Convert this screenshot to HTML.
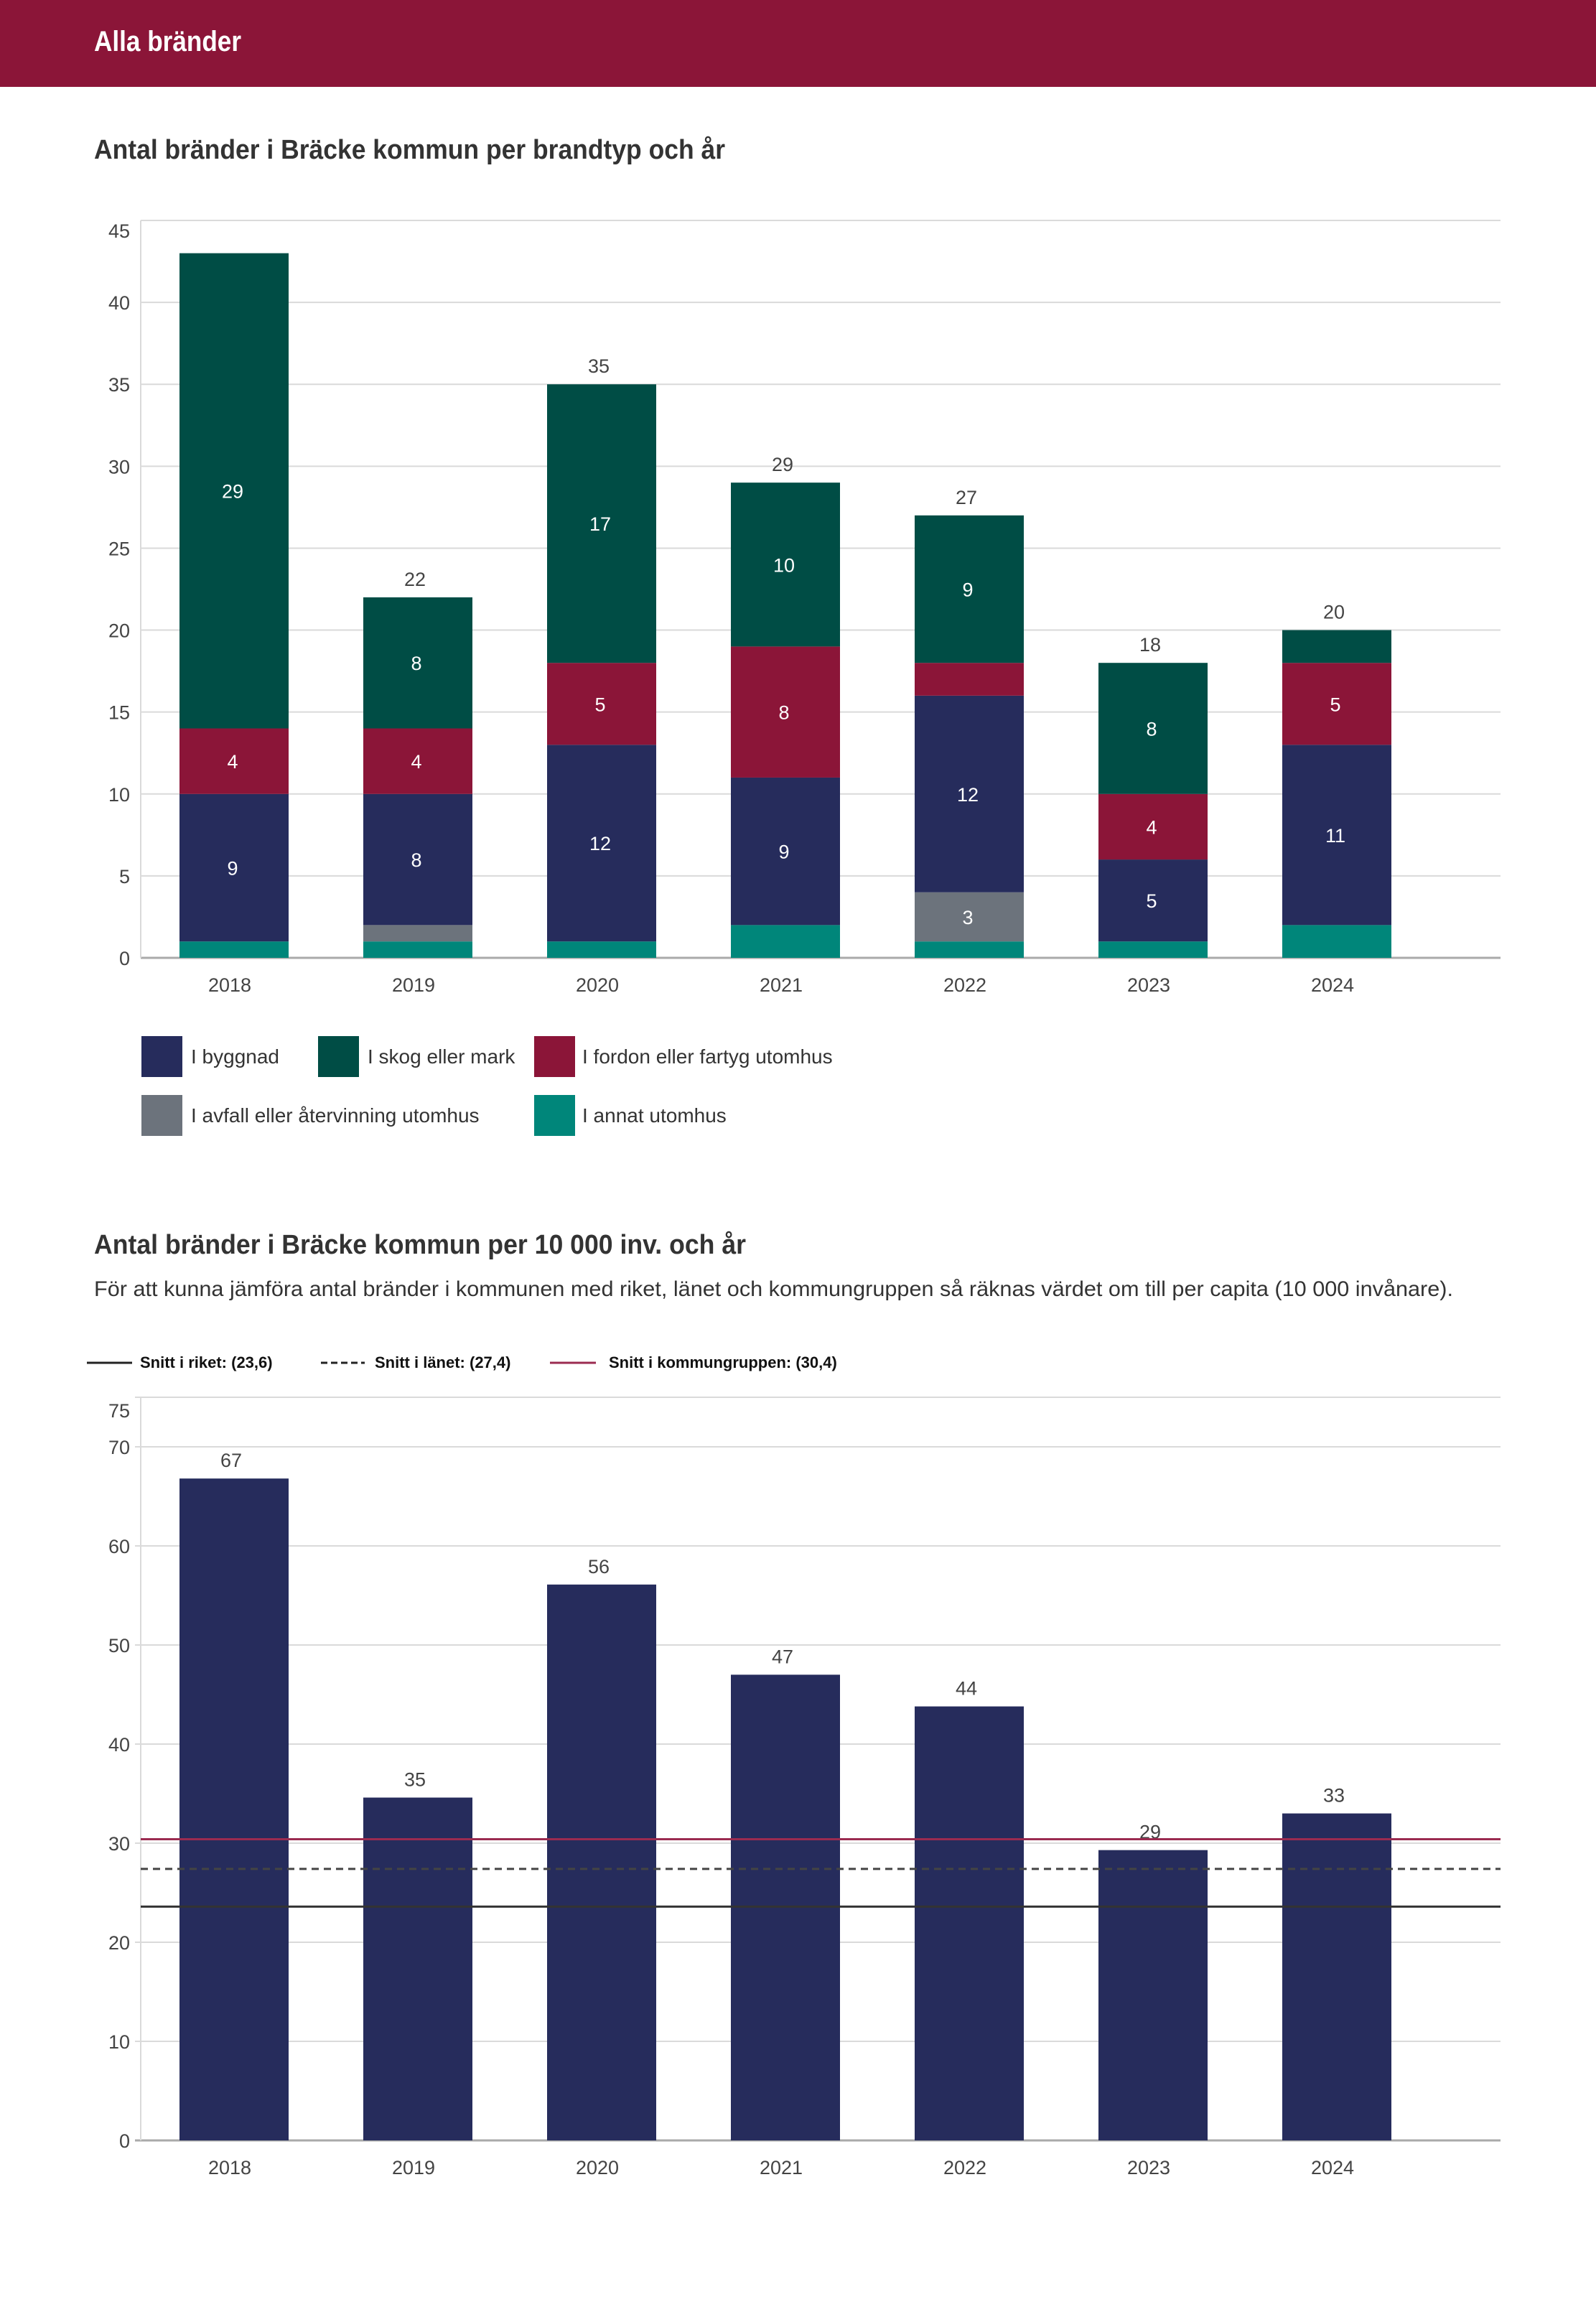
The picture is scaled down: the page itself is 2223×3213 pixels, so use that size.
<!DOCTYPE html>
<html><head><meta charset="utf-8"><style>
html,body{margin:0;padding:0;background:#fff;}
svg{display:block;font-family:"Liberation Sans Narrow","Liberation Sans",sans-serif;}
</style></head><body>
<svg id="s" width="2223" height="3213" viewBox="0 0 2223 3213" xmlns="http://www.w3.org/2000/svg">
<rect x="0" y="0" width="2223" height="121" fill="#8b1538"/>
<text x="131" y="71" font-size="40" fill="#fff" font-weight="bold" textLength="205" lengthAdjust="spacingAndGlyphs">Alla bränder</text>
<text x="131" y="221" font-size="38" fill="#333" font-weight="bold" textLength="879" lengthAdjust="spacingAndGlyphs">Antal bränder i Bräcke kommun per brandtyp och år</text>
<g id="c1"></g>
<g>
<rect x="197" y="1443" width="57" height="57" fill="#262c5c"/>
<text x="266" y="1481" font-size="28" fill="#333">I byggnad</text>
<rect x="443" y="1443" width="57" height="57" fill="#004d45"/>
<text x="512" y="1481" font-size="28" fill="#333">I skog eller mark</text>
<rect x="744" y="1443" width="57" height="57" fill="#8b1538"/>
<text x="811" y="1481" font-size="28" fill="#333">I fordon eller fartyg utomhus</text>
<rect x="197" y="1525" width="57" height="57" fill="#6c737c"/>
<text x="266" y="1563" font-size="28" fill="#333">I avfall eller återvinning utomhus</text>
<rect x="744" y="1525" width="57" height="57" fill="#00867a"/>
<text x="811" y="1563" font-size="28" fill="#333">I annat utomhus</text>
</g>
<text x="131" y="1746" font-size="38" fill="#333" font-weight="bold" textLength="908" lengthAdjust="spacingAndGlyphs">Antal bränder i Bräcke kommun per 10 000 inv. och år</text>
<text x="131" y="1805" font-size="30" fill="#333" textLength="1893" lengthAdjust="spacingAndGlyphs">För att kunna jämföra antal bränder i kommunen med riket, länet och kommungruppen så räknas värdet om till per capita (10 000 invånare).</text>
<g>
<line x1="121" y1="1898" x2="184" y2="1898" stroke="#222" stroke-width="3"/>
<text x="195" y="1905" font-size="22" font-weight="bold" fill="#111">Snitt i riket: (23,6)</text>
<line x1="447" y1="1898" x2="508" y2="1898" stroke="#222" stroke-width="3" stroke-dasharray="9,5"/>
<text x="522" y="1905" font-size="22" font-weight="bold" fill="#111">Snitt i länet: (27,4)</text>
<line x1="766" y1="1898" x2="830" y2="1898" stroke="#9b2b50" stroke-width="3"/>
<text x="848" y="1905" font-size="22" font-weight="bold" fill="#111">Snitt i kommungruppen: (30,4)</text>
</g>
<g id="c2"></g>
</svg>
<script>
const years = ["2018","2019","2020","2021","2022","2023","2024"];
const annat  = [1,1,1,2,1,1,2];
const avfall = [0,1,0,0,3,0,0];
const byggnad= [9,8,12,9,12,5,11];
const fordon = [4,4,5,8,2,4,5];
const skog   = [29,8,17,10,9,8,2];
const showTotal = [false,true,true,true,true,true,true];
const ticks1 = [0,5,10,15,20,25,30,35,40,45];
const perCapita = [66.8,34.6,56.1,47,43.8,29.3,33];
const perCapitaLabels = ["67","35","56","47","44","29","33"];
const ticks2 = [0,10,20,30,40,50,60,70,75];
const refRiket = 23.6, refLanet = 27.4, refGrupp = 30.4;

const NS="http://www.w3.org/2000/svg";
function mk(tag,attrs,parent,txt){const e=document.createElementNS(NS,tag);for(const k in attrs)e.setAttribute(k,attrs[k]);if(txt!==undefined)e.textContent=txt;parent.appendChild(e);return e;}
const L=196,R=2090,C0=326,STEP=256,BW=152;
const xc=i=>C0+i*STEP;

// chart 1
const c1=document.getElementById('c1');
const y1=v=>1334-(v/45)*(1334-307);
ticks1.forEach(t=>{
  const g=mk('line',{x1:L,x2:R,y1:y1(t),y2:y1(t),stroke:t===0?'#aaa':'#dadada','stroke-width':t===0?3:2},c1);
  
  
  const ty=t===45?y1(t)+24:y1(t)+10;
  const tx=mk('text',{x:181,y:ty,'font-size':27,fill:'#444','text-anchor':'end'},c1,String(t));
  
  
});
const va=mk('line',{x1:L,x2:L,y1:307,y2:1334,stroke:'#dadada','stroke-width':2},c1);


const series=[["annat",annat,"#00867a"],["avfall",avfall,"#6c737c"],["byggnad",byggnad,"#262c5c"],["fordon",fordon,"#8b1538"],["skog",skog,"#004d45"]];
years.forEach((yr,i)=>{
  let base=0;
  series.forEach(([nm,arr,col])=>{
    const v=arr[i]; if(!v)return;
    const r=mk('rect',{x:xc(i)-BW/2,y:y1(base+v),width:BW,height:y1(base)-y1(base+v),fill:col},c1);
    
    
    if(v>=3){
      const t=mk('text',{x:xc(i)-2,y:(y1(base)+y1(base+v))/2+10,'font-size':27,fill:'#fff','text-anchor':'middle'},c1,String(v));
      
      
    }
    base+=v;
  });
  if(showTotal[i]){
    const t=mk('text',{x:xc(i)-4,y:y1(base)-16,'font-size':27,fill:'#444','text-anchor':'middle'},c1,String(base));
    
    
  }
  const xl=mk('text',{x:xc(i)-6,y:1381,'font-size':27,fill:'#444','text-anchor':'middle'},c1,yr);
  
  
});

// chart 2
const c2=document.getElementById('c2');
const y2=v=>2981-v*13.8;
ticks2.forEach(t=>{
  const g=mk('line',{x1:L-8,x2:R,y1:y2(t),y2:y2(t),stroke:t===0?'#aaa':'#dadada','stroke-width':t===0?3:2},c2);
  
  
  const ty=t===75?y2(t)+28:y2(t)+10;
  const tx=mk('text',{x:181,y:ty,'font-size':27,fill:'#444','text-anchor':'end'},c2,String(t));
  
  
});
const va2=mk('line',{x1:L,x2:L,y1:y2(75),y2:2981,stroke:'#dadada','stroke-width':2},c2);


years.forEach((yr,i)=>{
  const r=mk('rect',{x:xc(i)-BW/2,y:y2(perCapita[i]),width:BW,height:2981-y2(perCapita[i]),fill:'#262c5c'},c2);
  
  
  const t=mk('text',{x:xc(i)-4,y:y2(perCapita[i])-16,'font-size':27,fill:'#444','text-anchor':'middle'},c2,perCapitaLabels[i]);
  
  
  const xl=mk('text',{x:xc(i)-6,y:3028,'font-size':27,fill:'#444','text-anchor':'middle'},c2,yr);
  
  
});
const l1=mk('line',{x1:L,x2:R,y1:y2(refRiket),y2:y2(refRiket),stroke:'#333','stroke-width':3},c2);


const l2=mk('line',{x1:L,x2:R,y1:y2(refLanet),y2:y2(refLanet),stroke:'#444','stroke-width':3,'stroke-dasharray':'10,7'},c2);


const l3=mk('line',{x1:L,x2:R,y1:y2(refGrupp),y2:y2(refGrupp),stroke:'#9b2b50','stroke-width':3},c2);


</script>
</body></html>
